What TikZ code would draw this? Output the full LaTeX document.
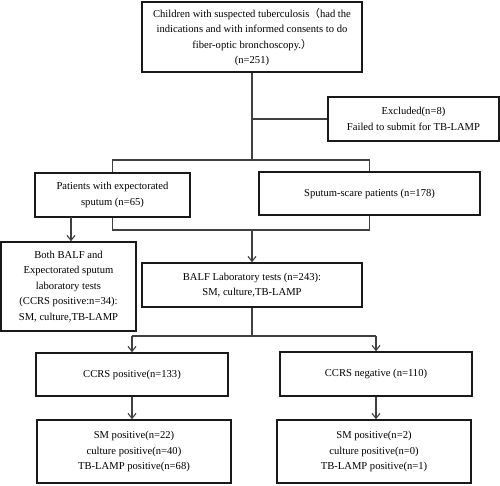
\documentclass[tikz,border=0pt]{standalone}
\usepackage{fontspec}
\setmainfont{Liberation Serif}
\newfontfamily\cjk{Noto Sans CJK SC}
\usetikzlibrary{arrows.meta}
\begin{document}
\begin{tikzpicture}[x=1pt,y=-1pt,
  box/.style={draw=black!90,line width=1.5pt,align=center,inner sep=2pt,
    font=\fontsize{10.6}{15.5}\selectfont},
  conn/.style={draw=black!75,line width=1.1pt},
  arr/.style={conn,-{Straight Barb[length=5pt,width=8pt]}}]
\useasboundingbox (0,0) rectangle (500,485);
\node[box,minimum width=220,minimum height=70] (top) at (252,37)
  {Children with suspected tuberculosis{\cjk（}had the\\indications and with informed consents to do\\fiber-optic bronchoscopy.{\cjk）}\\(n=251)};
\node[box,minimum width=171,minimum height=44] (excl) at (413.5,119)
  {Excluded(n=8)\\Failed to submit for TB-LAMP};
\node[box,minimum width=155,minimum height=44] (pat) at (112.5,195)
  {Patients with expectorated\\sputum (n=65)};
\node[box,minimum width=221,minimum height=43] (spu) at (369.5,193.5)
  {Sputum-scare patients (n=178)};
\node[box,minimum width=135,minimum height=89] (both) at (68.5,286.5)
  {Both BALF and\\Expectorated sputum\\laboratory tests\\(CCRS positive:n=34):\\SM, culture,TB-LAMP};
\node[box,minimum width=220,minimum height=44] (balf) at (252,285)
  {BALF Laboratory tests (n=243):\\SM, culture,TB-LAMP};
\node[box,minimum width=192,minimum height=43] (cpos) at (132,374.5)
  {CCRS positive(n=133)};
\node[box,minimum width=192,minimum height=44] (cneg) at (376,374)
  {CCRS negative (n=110)};
\node[box,minimum width=194,minimum height=63] (rpos) at (134,451.5)
  {SM positive(n=22)\\culture positive(n=40)\\TB-LAMP positive(n=68)};
\node[box,minimum width=194,minimum height=63] (rneg) at (374,451.5)
  {SM positive(n=2)\\culture positive(n=0)\\TB-LAMP positive(n=1)};
\coordinate (j1) at (252,160);
\coordinate (j2) at (252,230);
\coordinate (j3) at (252,336);
\coordinate (pa) at (71,217);
\draw[conn] (top.south) -- (j1);
\draw[conn] (top.south |- excl.west) -- (excl.west);
\draw[conn] (pat.north) -- (pat.north |- j1) -- (spu.north |- j1) -- (spu.north);
\draw[conn] (pat.south) -- (pat.south |- j2) -- (spu.south |- j2) -- (spu.south);
\draw[arr] (j2) -- (balf.north);
\draw[arr] (pa) -- (pa |- both.north);
\draw[conn] (balf.south) -- (j3);
\draw[conn] (cpos.north |- j3) -- (cneg.north |- j3);
\draw[arr] (cpos.north |- j3) -- (cpos.north);
\draw[arr] (cneg.north |- j3) -- (cneg.north);
\draw[arr] (cpos.south) -- (cpos.south |- rpos.north);
\draw[arr] (cneg.south) -- (cneg.south |- rneg.north);
\end{tikzpicture}
\end{document}
